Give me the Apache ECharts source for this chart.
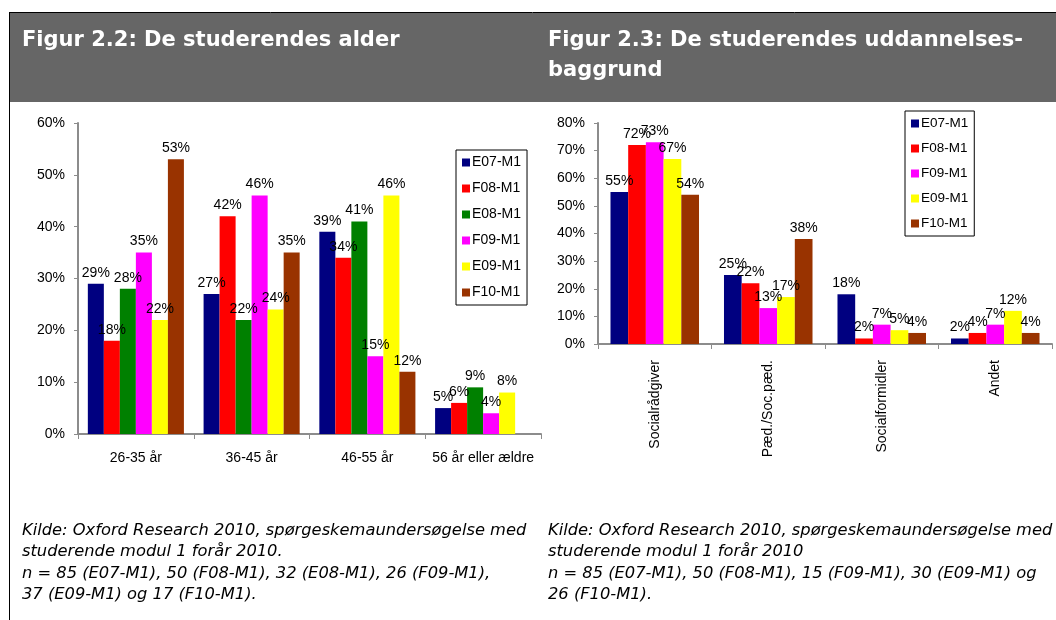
<!DOCTYPE html>
<html>
<head>
<meta charset="utf-8">
<script src="https://cdn.jsdelivr.net/npm/echarts@6/dist/echarts.min.js"></script>
<style>
  html, body { margin: 0; padding: 0; background: #fff; }
  #chart { width: 1056px; height: 620px; }
</style>
</head>
<body>
<div id="chart"></div>
<script>
// Figur 2.2 - alder
const ageCategories = ["26-35 år", "36-45 år", "46-55 år", "56 år eller ældre"];
const ageE07 = [29, 27, 39, 5];
const ageF08 = [18, 42, 34, 6];
const ageE08 = [28, 22, 41, 9];
const ageF09 = [35, 46, 15, 4];
const ageE09 = [22, 24, 46, 8];
const ageF10 = [53, 35, 12, null];

// Figur 2.3 - uddannelsesbaggrund
const eduCategories = ["Socialrådgiver", "Pæd./Soc.pæd.", "Socialformidler", "Andet"];
const eduE07 = [55, 25, 18, 2];
const eduF08 = [72, 22, 2, 4];
const eduF09 = [73, 13, 7, 7];
const eduE09 = [67, 17, 5, 12];
const eduF10 = [54, 38, 4, 4];

const ageTicks = { min: 0, max: 60, interval: 10 };
const eduTicks = { min: 0, max: 80, interval: 10 };

const COLORS = {
  "E07-M1": "#000080",
  "F08-M1": "#ff0000",
  "E08-M1": "#008000",
  "F09-M1": "#ff00ff",
  "E09-M1": "#ffff00",
  "F10-M1": "#993300",
};

const FONT = '"Liberation Sans", Arial, sans-serif';
const AXIS_GREY = "#8c8c8c";

function barSeries(name, data, idx, catGap) {
  return {
    type: "bar",
    name: name,
    data: data,
    xAxisIndex: idx,
    yAxisIndex: idx,
    barGap: "0%",
    barCategoryGap: catGap,
    itemStyle: { color: COLORS[name] },
    label: {
      show: true,
      position: "top",
      distance: 4,
      formatter: "{c}%",
      color: "#000",
      fontSize: 14,
      fontFamily: FONT,
    },
  };
}

function xAxis(idx, cats, rotate, margin) {
  return {
    type: "category",
    gridIndex: idx,
    data: cats,
    axisLine: { lineStyle: { color: AXIS_GREY, width: 2 } },
    axisTick: { show: true, length: 5, lineStyle: { color: AXIS_GREY } },
    axisLabel: {
      color: "#000",
      fontSize: 14,
      fontFamily: FONT,
      rotate: rotate,
      margin: margin,
      interval: 0,
    },
  };
}

function yAxis(idx, ticks) {
  return {
    type: "value",
    gridIndex: idx,
    min: ticks.min,
    max: ticks.max,
    interval: ticks.interval,
    axisLine: { show: true, lineStyle: { color: AXIS_GREY, width: 2 } },
    axisTick: { show: true, length: 4, lineStyle: { color: AXIS_GREY } },
    splitLine: { show: false },
    axisLabel: {
      color: "#000",
      fontSize: 14,
      fontFamily: FONT,
      margin: 13,
      formatter: "{value}%",
    },
  };
}

function legend(left, top, names, gap, size) {
  return {
    orient: "vertical",
    left: left,
    top: top,
    data: names,
    icon: "rect",
    itemWidth: 8,
    itemHeight: 8,
    itemGap: gap,
    borderColor: "#000",
    borderWidth: 1,
    padding: [5, 6, 5, 6],
    textStyle: { color: "#000", fontSize: size, fontFamily: FONT, lineHeight: 15, padding: [0, 0, 0, -3] },
  };
}

const footLeft = [
  "Kilde: Oxford Research 2010, spørgeskemaundersøgelse med",
  "studerende modul 1 forår 2010.",
  "n = 85 (E07-M1), 50 (F08-M1), 32 (E08-M1), 26 (F09-M1),",
  "37 (E09-M1) og 17 (F10-M1).",
];
const footRight = [
  "Kilde: Oxford Research 2010, spørgeskemaundersøgelse med",
  "studerende modul 1 forår 2010",
  "n = 85 (E07-M1), 50 (F08-M1), 15 (F09-M1), 30 (E09-M1) og",
  "26 (F10-M1).",
];

const chart = echarts.init(document.getElementById("chart"), null, { renderer: "canvas" });

const titleStyle = { fill: "#fff", font: 'bold 21px "DejaVu Sans", Verdana, sans-serif', lineHeight: 30 };
const footStyle = { fill: "#000", font: 'italic 16.3px "DejaVu Sans", Verdana, sans-serif', lineHeight: 21.5 };

chart.setOption({
  animation: false,
  textStyle: { fontFamily: FONT },
  graphic: [
    { type: "rect", shape: { x: 10, y: 13, width: 1046, height: 89 }, style: { fill: "#666666" }, silent: true },
    { type: "line", shape: { x1: 9, y1: 12.5, x2: 1056, y2: 12.5 }, style: { stroke: "#000", lineWidth: 1 } },
    { type: "line", shape: { x1: 9.5, y1: 12, x2: 9.5, y2: 620 }, style: { stroke: "#000", lineWidth: 1 } },
    { type: "text", left: 22, top: 26, style: Object.assign({ text: "Figur 2.2: De studerendes alder" }, titleStyle) },
    { type: "text", left: 548, top: 26, style: Object.assign({ text: "Figur 2.3: De studerendes uddannelses-\nbaggrund" }, titleStyle) },
    { type: "text", left: 22, top: 520, style: Object.assign({ text: footLeft.join("\n") }, footStyle) },
    { type: "text", left: 548, top: 520, style: Object.assign({ text: footRight.join("\n") }, footStyle) },
  ],
  grid: [
    { left: 78, right: 515, top: 123, bottom: 186 },
    { left: 598, right: 4, top: 123, bottom: 276 },
  ],
  legend: [
    legend(456, 150, ["E07-M1", "F08-M1", "E08-M1", "F09-M1", "E09-M1", "F10-M1"], 11, 14),
    legend(905, 111, ["E07-M1", "F08-M1", "F09-M1", "E09-M1", "F10-M1"], 10, 13.5),
  ],
  xAxis: [xAxis(0, ageCategories, 0, 17), xAxis(1, eduCategories, 90, 16)],
  yAxis: [yAxis(0, ageTicks), yAxis(1, eduTicks)],
  series: [
    barSeries("E07-M1", ageE07, 0, "17%"),
    barSeries("F08-M1", ageF08, 0, "17%"),
    barSeries("E08-M1", ageE08, 0, "17%"),
    barSeries("F09-M1", ageF09, 0, "17%"),
    barSeries("E09-M1", ageE09, 0, "17%"),
    barSeries("F10-M1", ageF10, 0, "17%"),
    barSeries("E07-M1", eduE07, 1, "22%"),
    barSeries("F08-M1", eduF08, 1, "22%"),
    barSeries("F09-M1", eduF09, 1, "22%"),
    barSeries("E09-M1", eduE09, 1, "22%"),
    barSeries("F10-M1", eduF10, 1, "22%"),
  ],
});
</script>
</body>
</html>
